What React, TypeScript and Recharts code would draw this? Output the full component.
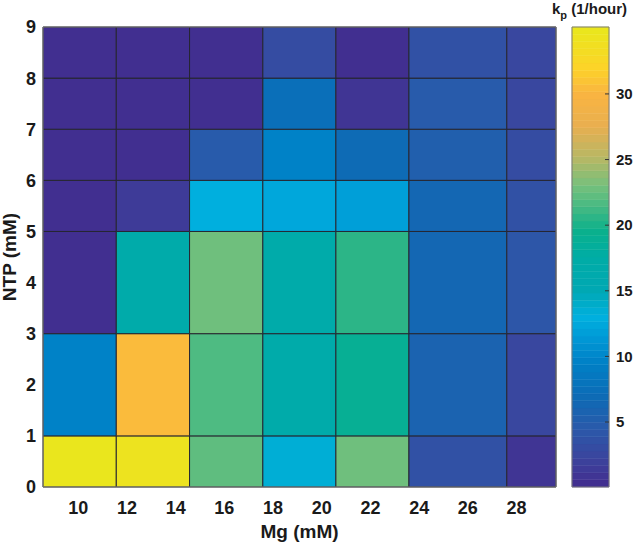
import React from "react";
import { ComposedChart, XAxis, YAxis, ReferenceArea, Label } from "recharts";

// Mg column edges (mM) and NTP row edges (mM) as drawn in the figure
const mgEdges = [8.55, 11.56, 14.57, 17.58, 20.58, 23.58, 27.6, 29.62];
const ntpEdges = [0, 1, 3, 5, 6, 7, 8, 9];

const mgTicks = [10, 12, 14, 16, 18, 20, 22, 24, 26, 28];
const ntpTicks = [0, 1, 2, 3, 4, 5, 6, 7, 8, 9];
const kpTicks = [5, 10, 15, 20, 25, 30];

// k_p (1/hour), one array per NTP band, left to right along Mg
const kpNtp0to1 = [34.8, 34.5, 22, 13.5, 23, 3.5, 1];
const kpNtp1to3 = [9.5, 30.5, 21.5, 16.5, 19, 6, 2.5];
const kpNtp3to5 = [0.3, 17, 23, 17, 20.7, 6.5, 4.3];
const kpNtp5to6 = [0.3, 1.3, 13, 12.3, 12, 6.5, 3.8];
const kpNtp6to7 = [0.3, 0.3, 4.8, 9.5, 7, 5.3, 2.8];
const kpNtp7to8 = [0.3, 0.3, 0.3, 7.3, 1, 4.8, 2.5];
const kpNtp8to9 = [0.3, 0.3, 0.3, 3, 0.5, 3.5, 2.3];

const kpRows = [kpNtp0to1, kpNtp1to3, kpNtp3to5, kpNtp5to6, kpNtp6to7, kpNtp7to8, kpNtp8to9];

const KP_MIN = 0.05;
const KP_MAX = 35.1;
const LEVELS = 64;

const FONT = "'Liberation Sans', Arial, Helvetica, sans-serif";
const TEXT = "#1a1a1a";

// parula-like map, as it appears in the figure
const cmapT = [0, 0.057, 0.128, 0.2, 0.27, 0.328, 0.37, 0.427, 0.5, 0.556, 0.6, 0.655, 0.712, 0.783, 0.855, 0.912, 1];
const cmapRGB = [
  [66, 44, 142], [60, 66, 156], [42, 90, 170], [12, 108, 182], [0, 128, 198], [0, 155, 215],
  [0, 176, 222], [0, 168, 180], [0, 172, 165], [10, 176, 140], [60, 184, 132], [118, 192, 124],
  [180, 184, 102], [232, 175, 80], [250, 180, 65], [252, 212, 40], [232, 232, 28],
];

function mapColor(t: number) {
  let i = 0;
  while (i < cmapT.length - 2 && t > cmapT[i + 1]) i++;
  const f = Math.max(0, Math.min(1, (t - cmapT[i]) / (cmapT[i + 1] - cmapT[i])));
  const a = cmapRGB[i];
  const b = cmapRGB[i + 1];
  const c = a.map((v, k) => Math.round(v + (b[k] - v) * f));
  return `rgb(${c[0]},${c[1]},${c[2]})`;
}

const levelColor = (i: number) => mapColor((i + 0.5) / LEVELS);

function kpColor(v: number) {
  const i = Math.floor(((v - KP_MIN) / (KP_MAX - KP_MIN)) * LEVELS);
  return levelColor(Math.max(0, Math.min(LEVELS - 1, i)));
}

const cells = kpRows.flatMap((row, r) =>
  row.map((kp, c) => ({
    x1: mgEdges[c],
    x2: mgEdges[c + 1],
    y1: ntpEdges[r],
    y2: ntpEdges[r + 1],
    kp,
  }))
);

const levels = Array.from({ length: LEVELS }, (_, i) => ({
  y1: KP_MIN + (i * (KP_MAX - KP_MIN)) / LEVELS,
  y2: KP_MIN + ((i + 1) * (KP_MAX - KP_MIN)) / LEVELS,
  fill: levelColor(i),
}));

const tickStyle = { fontSize: 18, fontWeight: "bold", fill: TEXT, fontFamily: FONT };

const MgLabel = (props: any) => {
  const vb = props.viewBox;
  return (
    <text x={vb.x + vb.width / 2} y={vb.y + vb.height - 7} textAnchor="middle"
      fontSize={19} fontWeight="bold" fill={TEXT} fontFamily={FONT}>
      Mg (mM)
    </text>
  );
};

const NtpLabel = (props: any) => {
  const vb = props.viewBox;
  return (
    <text transform={`translate(${vb.x + 9},${vb.y + vb.height / 2}) rotate(-90)`} textAnchor="middle"
      dominantBaseline="central" fontSize={19} fontWeight="bold" fill={TEXT} fontFamily={FONT}>
      NTP (mM)
    </text>
  );
};

const ColorbarTick = (props: any) => {
  const { x, y, payload } = props;
  return (
    <g>
      <line x1={x - 11} x2={x - 7} y1={y} y2={y} stroke="#333" strokeWidth={1} />
      <text x={x} y={y} dy="0.355em" textAnchor="start" fontSize={15} fontWeight="bold" fill={TEXT} fontFamily={FONT}>
        {payload.value}
      </text>
    </g>
  );
};

export default function App() {
  return (
    <div style={{ position: "absolute", left: 0, top: 0, width: 633, height: 545, background: "#fff" }}>
      <ComposedChart width={633} height={545} margin={{ top: 27, right: 77, bottom: 0, left: 0 }} data={[]}>
        <XAxis type="number" dataKey="mg" domain={[mgEdges[0], mgEdges[mgEdges.length - 1]]} ticks={mgTicks}
          allowDataOverflow interval={0} height={58} tickLine={false} axisLine={false} tickSize={0} tickMargin={14}
          tick={tickStyle} label={<Label content={MgLabel} />} />
        <YAxis type="number" dataKey="ntp" domain={[0, 9]} ticks={ntpTicks} allowDataOverflow interval={0}
          width={43} tickLine={false} axisLine={false} tickSize={0} tickMargin={7}
          tick={tickStyle} label={<Label content={NtpLabel} />} />
        {cells.map((c, i) => (
          <ReferenceArea key={i} x1={c.x1} x2={c.x2} y1={c.y1} y2={c.y2} fill={kpColor(c.kp)} fillOpacity={1}
            stroke="#262630" strokeWidth={1} ifOverflow="visible" />
        ))}
        <ReferenceArea x1={mgEdges[0]} x2={mgEdges[mgEdges.length - 1]} y1={0} y2={9} fill="none"
          stroke="#7a7a7a" strokeWidth={1} ifOverflow="visible" />
      </ComposedChart>

      <div style={{ position: "absolute", left: 560, top: 0 }}>
        <ComposedChart width={73} height={545} margin={{ top: 27, right: 0, bottom: 58, left: 12 }} data={[]}>
          <XAxis type="number" dataKey="u" domain={[0, 1]} hide allowDataOverflow />
          <YAxis type="number" dataKey="kp" orientation="right" domain={[KP_MIN, KP_MAX]} ticks={kpTicks}
            allowDataOverflow interval={0} width={24} tickLine={false} axisLine={false} tickSize={0} tickMargin={7}
            tick={<ColorbarTick />} />
          {levels.map((l, i) => (
            <ReferenceArea key={i} x1={0} x2={1} y1={l.y1} y2={l.y2} fill={l.fill} fillOpacity={1}
              stroke={l.fill} strokeWidth={0.5} ifOverflow="visible" />
          ))}
          <ReferenceArea x1={0} x2={1} y1={KP_MIN} y2={KP_MAX} fill="none" stroke="#7a7a7a" strokeWidth={1}
            ifOverflow="visible" />
        </ComposedChart>
      </div>

      <svg width={633} height={30} style={{ position: "absolute", left: 0, top: 0 }}>
        <text x={552} y={14} fontSize={15} fontWeight="bold" fill={TEXT} fontFamily={FONT}>
          k<tspan dy={5} fontSize={11}>p</tspan>
          <tspan dy={-5}> (1/hour)</tspan>
        </text>
      </svg>
    </div>
  );
}
